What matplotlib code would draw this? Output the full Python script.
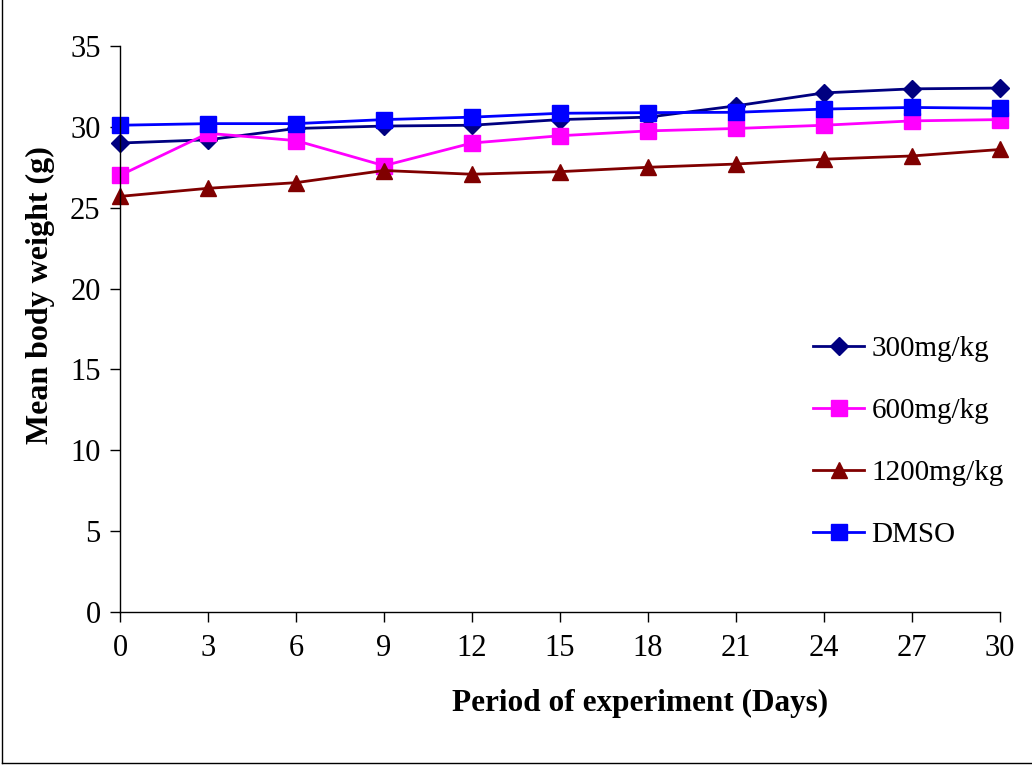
import matplotlib
matplotlib.use("Agg")
import matplotlib.pyplot as plt
from matplotlib.lines import Line2D

# Data
days = [0, 3, 6, 9, 12, 15, 18, 21, 24, 27, 30]
w_300 = [29.0, 29.2, 29.9, 30.05, 30.1, 30.45, 30.6, 31.3, 32.1, 32.35, 32.4]
w_600 = [27.0, 29.6, 29.15, 27.6, 29.0, 29.45, 29.75, 29.9, 30.1, 30.37, 30.45]
w_1200 = [25.7, 26.2, 26.55, 27.3, 27.07, 27.23, 27.5, 27.7, 28.0, 28.2, 28.6]
w_dmso = [30.1, 30.2, 30.2, 30.45, 30.6, 30.84, 30.88, 30.9, 31.1, 31.2, 31.15]
y_ticks = [0, 5, 10, 15, 20, 25, 30, 35]

plt.rcParams['font.family'] = ['Liberation Serif', 'DejaVu Serif']

fig = plt.figure(figsize=(10.32, 7.66), dpi=100)
ax = fig.add_axes([120 / 1032, 1 - 612 / 766, 880 / 1032, 566 / 766])

series = [
    ('300mg/kg', w_300, '#000080', 'D', 9),
    ('600mg/kg', w_600, '#FF00FF', 's', 11),
    ('1200mg/kg', w_1200, '#800000', '^', 11),
    ('DMSO', w_dmso, '#0000FF', 's', 11),
]
for label, vals, color, marker, ms in series:
    ax.plot(days, vals, color=color, marker=marker, markersize=ms,
            linewidth=2, label=label, clip_on=False)

ax.set_xlim(0, 30)
ax.set_ylim(0, 35)
ax.set_xticks(days)
ax.set_yticks(y_ticks)
ax.tick_params(axis='both', direction='out', length=7, width=1,
               labelsize=22, colors='black')
ax.tick_params(axis='x', pad=9)
ax.tick_params(axis='y', pad=7)
for side in ['top', 'right']:
    ax.spines[side].set_visible(False)
for side in ['left', 'bottom']:
    ax.spines[side].set_linewidth(1)

leg = ax.legend(loc='center left', bbox_to_anchor=(0.7875, 0.30), frameon=False,
                fontsize=21, numpoints=1, labelspacing=1.22,
                handlelength=1.75, handletextpad=0.25, borderaxespad=0,
                borderpad=0)

fig.text(640 / 1032, 1 - 703 / 766, 'Period of experiment (Days)',
         ha='center', va='center', fontsize=22.5, fontweight='bold')
fig.text(40 / 1032, 1 - 295 / 766, 'Mean body weight (g)',
         ha='center', va='center', rotation=90, fontsize=23, fontweight='bold')

# thin frame lines on the left and bottom of the picture
fig.add_artist(Line2D([2 / 1032, 2 / 1032], [3 / 766, 1], color='black',
                      linewidth=1, transform=fig.transFigure))
fig.add_artist(Line2D([2 / 1032, 1], [3 / 766, 3 / 766], color='black',
                      linewidth=1, transform=fig.transFigure))

fig.savefig('out.png', dpi=100, facecolor='white')
